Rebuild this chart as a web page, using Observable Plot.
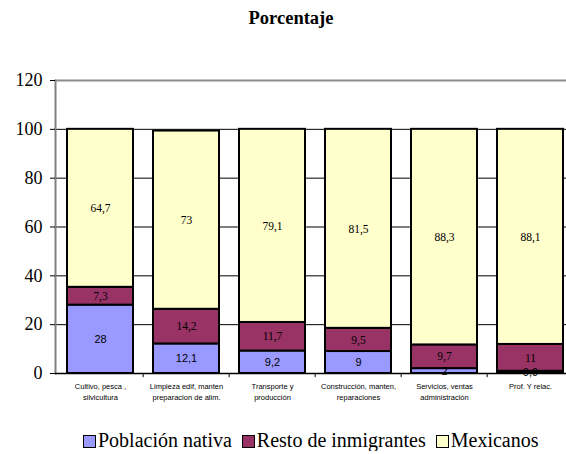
<!DOCTYPE html>
<html>
<head>
<meta charset="utf-8">
<script src="https://cdn.jsdelivr.net/npm/d3@7"></script>
<script src="https://cdn.jsdelivr.net/npm/@observablehq/plot@0.6"></script>
<style>
  html, body { margin: 0; padding: 0; background: white; overflow: hidden; }
  #title { height: 40px; font-family: 'Liberation Serif', serif; font-weight: bold; font-size: 18.5px; text-align: center; line-height: 36px; padding-left: 16px; box-sizing: border-box; }
  #legend { font-family: 'Liberation Serif', serif; font-size: 20px; line-height: 22px; display: flex; gap: 10px; padding-left: 83px; margin-top: 14px; align-items: center; }
  #legend span.sw { display: inline-block; width: 11px; height: 11px; border: 1.5px solid black; margin-right: 2px; vertical-align: -1px; }
</style>
</head>
<body>
<div id="title">Porcentaje</div>
<div id="chart"></div>
<div id="legend"></div>
<script>
const categories = ["Cultivo, pesca ,\nsilvicultura", "Limpieza edif, manten\npreparacion de alim.", "Transporte y\nproducción", "Construcción, manten,\nreparaciones", "Servicios, ventas\nadministración", "Prof. Y relac."];
const seriesNames = ["Población nativa", "Resto de inmigrantes", "Mexicanos"];
const nativa = [28, 12.1, 9.2, 9, 2, 0.9];
const resto = [7.3, 14.2, 11.7, 9.5, 9.7, 11];
const mexicanos = [64.7, 73, 79.1, 81.5, 88.3, 88.1];
const yTicks = [0, 20, 40, 60, 80, 100, 120];
const colors = ["#9999FF", "#993366", "#FFFFCC"];

const values = [nativa, resto, mexicanos];
const data = [];
seriesNames.forEach((s, si) => categories.forEach((c, ci) => data.push({cat: c, series: s, value: values[si][ci]})));
const fmt = v => String(v).replace(".", ",");

const serif = "'Liberation Serif', serif";
const sans = "'Liberation Sans', sans-serif";
const width = 566, ml = 55, mr = -9;
const step = (width - ml - mr) / categories.length;

const chart = Plot.plot({
  width,
  height: 375,
  marginLeft: ml,
  marginRight: mr,
  marginTop: 40,
  marginBottom: 42,
  style: {background: "white", overflow: "visible", maxWidth: "none", fontFamily: serif},
  x: {domain: categories, paddingInner: 0.23, paddingOuter: 0.115, label: null},
  y: {domain: [0, 120], label: null},
  color: {domain: seriesNames, range: colors},
  marks: [
    Plot.ruleY(yTicks.filter(t => t > 0 && t < 120), {stroke: "black", strokeWidth: 1}),
    Plot.ruleY([120], {stroke: "#8c8c8c", strokeWidth: 2}),
    Plot.frame({anchor: "left", stroke: "#808080", strokeWidth: 2}),
    Plot.barY(data, {x: "cat", y: "value", fill: "series", stroke: "black", strokeWidth: 2, order: seriesNames}),
    Plot.ruleY([0], {stroke: "black", strokeWidth: 1.5}),
    Plot.ruleX(categories.slice(1), {x: d => d, dx: -step / 2, y1: 0, y2: -1.7, stroke: "black"}),
    Plot.text(data, Plot.stackY({x: "cat", y: "value", z: "series", order: seriesNames,
      text: d => d.series === seriesNames[0] ? fmt(d.value) : null,
      fontFamily: sans, fontSize: 11, fill: "black"})),
    Plot.text(data, Plot.stackY({x: "cat", y: "value", z: "series", order: seriesNames,
      text: d => d.series !== seriesNames[0] ? fmt(d.value) : null,
      fontFamily: serif, fontSize: 11.5, fill: "black"})),
    Plot.axisY({ticks: yTicks, tickSize: 5, tickPadding: 8, fontSize: 18, fontFamily: serif, stroke: "black", fill: "black", label: null}),
    Plot.axisX({tickSize: 0, tickPadding: 7, fontSize: 7.5, fontFamily: sans, lineHeight: 1.55, fill: "black", label: null})
  ]
});
document.getElementById("chart").appendChild(chart);

const legend = document.getElementById("legend");
seriesNames.forEach((s, i) => {
  const item = document.createElement("div");
  item.innerHTML = `<span class="sw" style="background:${colors[i]}"></span>${s}`;
  legend.appendChild(item);
});
</script>
</body>
</html>
